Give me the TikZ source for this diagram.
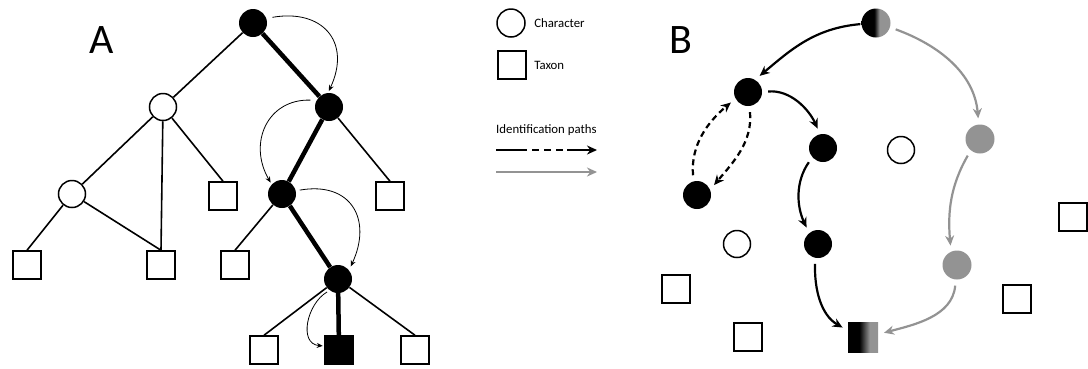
\documentclass[tikz,border=0pt]{standalone}
\usepackage{fontspec}
\setmainfont{Carlito}
\usetikzlibrary{arrows.meta, positioning}
\definecolor{pathgray}{HTML}{939393}
\pgfdeclarehorizontalshading{halfcirc}{100bp}{color(0bp)=(black); color(47bp)=(black); color(56bp)=(pathgray); color(100bp)=(pathgray)}
\pgfdeclarehorizontalshading{halfsq}{100bp}{color(0bp)=(black); color(44bp)=(black); color(61bp)=(pathgray); color(100bp)=(pathgray)}

\begin{document}
\begin{tikzpicture}[x=1pt, y=1pt,
    char/.style={circle, draw, line width=1.5pt, fill=white, minimum size=27pt, inner sep=0pt},
    known/.style={circle, fill=black, minimum size=28pt, inner sep=0pt},
    grey/.style={circle, fill=pathgray, minimum size=29pt, inner sep=0pt},
    taxon/.style={rectangle, draw, line width=1.5pt, fill=white, minimum size=28pt, inner sep=0pt},
    edge/.style={line width=1.6pt},
    route/.style={line width=4.5pt},
    hop/.style={-{Stealth[length=6pt, width=5pt]}, line width=0.8pt},
    walk/.style={-{Stealth[length=10pt, width=9pt]}, line width=2.2pt, shorten <=6pt, shorten >=6pt},
    panel/.style={font=\fontsize{42}{42}\selectfont},
    legend/.style={font=\fontsize{12.8}{14}\selectfont}
  ]
  \useasboundingbox (0,0) rectangle (1088,-368);

  % panel A: key tree
  \node[panel] (labA) at (102,-40) {A};
  \node[known] (root) at (253,-23) {};
  \node[char] (c1) at (163,-107) {};
  \node[known] (k1) at (329,-107) {};
  \node[char] (c2) at (72,-194) {};
  \node[taxon] (t1) at (223,-196) {};
  \node[known] (k2) at (282,-194) {};
  \node[taxon] (t2) at (390,-196) {};
  \node[taxon] (t3) at (27,-265) {};
  \node[taxon] (t4) at (161,-265) {};
  \node[taxon] (t5) at (235,-265) {};
  \node[known] (k3) at (338,-279) {};
  \node[taxon] (t6) at (264,-350) {};
  \node[taxon, fill=black] (hit) at (339,-350) {};
  \node[taxon] (t7) at (415,-350) {};

  \draw[edge] (root) -- (c1);
  \draw[edge] (c1) -- (c2);
  \draw[edge] (c1) -- (t4.north);
  \draw[edge] (c1) -- (t1.north);
  \draw[edge] (c2) -- (t3.north);
  \draw[edge] (c2) -- (t4.north);
  \draw[edge] (k1) -- (t2.north);
  \draw[edge] (k2) -- (t5.north);
  \draw[edge] (k3) -- (t6.north);
  \draw[edge] (k3) -- (t7.north);
  \draw[route] (root) -- (k1) -- (k2) -- (k3) -- (hit);

  \draw[hop, shorten <=6pt, shorten >=2pt] (root.19) to[out=10, in=65, looseness=1.5] (k1.94);
  \draw[hop, shorten <=6pt, shorten >=2pt] (k1.152) to[out=178, in=120, looseness=1.3] (k2.137);
  \draw[hop, shorten <=4pt, shorten >=4pt] (k2.13) to[out=10, in=65, looseness=1.5] (k3.39);
  \draw[hop, shorten <=3pt, shorten >=1.5pt] (k3.234) to[out=210, in=175, looseness=1.2] (hit.165);

  % legend
  \node[char, minimum size=28pt] (legchar) at (511,-23) {};
  \node[legend, right=5pt of legchar] (legchartext) {Character};
  \node[taxon] (legtax) at (512,-65) {};
  \node[legend, right=4pt of legtax] (legtaxtext) {Taxon};
  \node[legend, anchor=west, inner sep=0pt] (legpath) at (496,-130) {Identification paths};
  \coordinate (legA) at (496,-150);
  \coordinate (legB) at (597,-150);
  \coordinate (legC) at (496,-172);
  \coordinate (legD) at (597,-172);
  \draw[walk, shorten <=0pt, shorten >=0pt, line width=2pt,
        dash pattern=on 31pt off 5pt on 7pt off 5pt on 7pt off 5pt on 7pt off 4pt on 40pt] (legA) -- (legB);
  \draw[walk, pathgray, shorten <=0pt, shorten >=0pt, line width=2pt] (legC) -- (legD);

  % panel B: free access key
  \node[panel] (labB) at (681,-40) {B};
  \node[circle, minimum size=29pt, inner sep=0pt, shade, shading=halfcirc] (start) at (876,-23) {};
  \node[known] (n1) at (748,-92) {};
  \node[known] (n2) at (823,-148) {};
  \node[char] (c3) at (901,-150) {};
  \node[grey] (g1) at (980,-139) {};
  \node[known] (n3) at (697,-195) {};
  \node[char] (c4) at (737,-244) {};
  \node[known] (n4) at (818,-244) {};
  \node[grey] (g2) at (957,-265) {};
  \node[taxon] (t8) at (1073,-217) {};
  \node[taxon] (t9) at (676,-289) {};
  \node[taxon] (t10) at (748,-337) {};
  \node[taxon] (t11) at (1017,-299) {};
  \node[rectangle, minimum size=30pt, inner sep=0pt, shade, shading=halfsq] (goal) at (863,-337) {};

  \draw[walk, shorten <=1pt] (start.184) to[out=185, in=40] (n1.60);
  \draw[walk, pathgray] (start.-17) to[out=-20, in=95] (g1.95);
  \draw[walk] (n1.0) to[out=5, in=115] (n2.101);
  \draw[walk, dash pattern=on 6pt off 4pt] (n1.276) to[out=-85, in=50] (n3.22);
  \draw[walk, dash pattern=on 6pt off 4pt] (n3.104) to[out=95, in=220] (n1.208);
  \draw[walk] (n2.221) to[out=235, in=115] (n4.129);
  \draw[walk] (n4.259) to[out=-92, in=150] (goal.157);
  \draw[walk, pathgray] (g1.231) to[out=240, in=95] (g2.114);
  \draw[walk, pathgray] (g2.265) to[out=-95, in=15] (goal.10);
\end{tikzpicture}
\end{document}
